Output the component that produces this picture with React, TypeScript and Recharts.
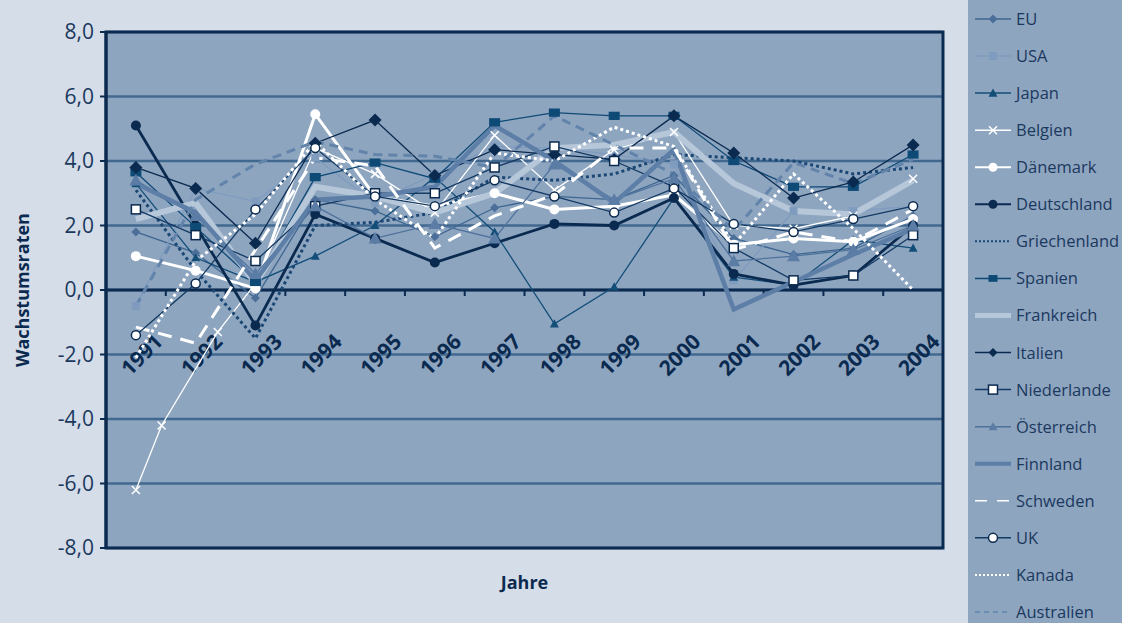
import React from "react";
import {
  LineChart,
  Line,
  XAxis,
  YAxis,
  CartesianGrid,
  ReferenceLine,
  ReferenceArea,
  Legend,
} from "recharts";

// Reale BIP-Wachstumsraten in %, 1991–2004
const JAHRE = [1991, 1992, 1993, 1994, 1995, 1996, 1997, 1998, 1999, 2000, 2001, 2002, 2003, 2004];
const Y_TICKS = [-8, -6, -4, -2, 0, 2, 4, 6, 8];

const EU = [1.8, 1.15, -0.25, 2.8, 2.45, 1.65, 2.55, 2.9, 2.8, 3.55, 1.6, 1.1, 1.3, 2.3];
const USA = [-0.5, 3.15, 2.75, 4.1, 2.7, 3.6, 4.45, 4.4, 4.2, 3.9, 0.3, 2.45, 2.45, 2.6];
const JAPAN = [3.3, 1.0, 0.25, 1.05, 2.0, 3.5, 1.8, -1.05, 0.1, 2.85, 0.4, 0.15, 1.55, 1.3];
// Belgien hat zwei Zwischenwerte zu Beginn der Reihe
const BELGIEN_JAHRE = [1991, 1991.43, 1992.37, 1993, 1994, 1995, 1996, 1997, 1998, 1999, 2000, 2001, 2002, 2003, 2004];
const BELGIEN = [-6.2, -4.2, -1.3, 0.2, 4.4, 3.6, 2.4, 4.8, 3.1, 4.35, 4.9, 2.0, 1.9, 2.3, 3.45];
const DAENEMARK = [1.05, 0.6, 0.05, 5.45, 2.9, 2.6, 3.0, 2.5, 2.6, 2.95, 1.4, 1.6, 1.5, 2.2];
const DEUTSCHLAND = [5.1, 2.0, -1.1, 2.35, 1.6, 0.85, 1.45, 2.05, 2.0, 2.85, 0.5, 0.15, 0.45, 2.0];
const GRIECHENLAND = [3.1, 0.6, -1.5, 2.0, 2.1, 2.4, 3.5, 3.4, 3.6, 4.2, 4.1, 4.0, 3.6, 3.8];
const SPANIEN = [3.65, 1.95, 0.25, 3.5, 3.95, 3.45, 5.2, 5.5, 5.4, 5.4, 4.0, 3.2, 3.2, 4.2];
const FRANKREICH = [2.2, 2.7, 0.2, 3.2, 2.9, 2.4, 3.0, 4.4, 4.5, 4.9, 3.3, 2.45, 2.35, 3.4];
const ITALIEN = [3.8, 3.15, 1.45, 4.55, 5.27, 3.55, 4.35, 4.2, 4.05, 5.4, 4.25, 2.85, 3.35, 4.5];
const NIEDERLANDE = [2.5, 1.7, 0.9, 2.6, 3.0, 3.0, 3.8, 4.45, 4.0, 3.2, 1.3, 0.3, 0.45, 1.7];
const OESTERREICH = [3.4, 2.3, 0.5, 2.6, 1.6, 2.05, 1.6, 3.9, 2.8, 3.45, 0.9, 1.05, 1.25, 2.0];
const FINNLAND = [3.3, 2.4, 0.3, 2.8, 2.9, 3.2, 5.1, 4.0, 2.7, 4.35, -0.6, 0.25, 1.1, 1.9];
const SCHWEDEN = [-1.15, -1.65, 1.25, 4.1, 3.85, 1.3, 2.3, 2.95, 4.4, 4.4, 1.25, 1.8, 1.5, 2.5];
const UK = [-1.4, 0.2, 2.5, 4.4, 2.9, 2.6, 3.4, 2.9, 2.4, 3.15, 2.05, 1.8, 2.2, 2.6];
const KANADA = [-2.1, 0.9, 2.35, 4.6, 2.8, 1.6, 4.25, 4.0, 5.05, 4.45, 1.4, 3.6, 1.9, 0.0];
const AUSTRALIEN = [-0.5, 2.8, 3.9, 4.6, 4.2, 4.15, 3.8, 5.4, 4.5, 3.6, 1.85, 3.95, 3.3, 4.05];

const PAGE_BG = "#d5dde8";
const PLOT_BG = "#8ea5c0";
const GRID = "#41688f";
const NAVY = "#0b2a4f";
const TEXT = "#1b395e";
const WHITE = "#ffffff";

type MarkerKind = "diamond" | "square" | "rect" | "triangle" | "circle" | "cross";
type Marker = { kind: MarkerKind; size: number; fill: string; stroke?: string; strokeWidth?: number };
type Serie = {
  key: string;
  label: string;
  values: number[];
  stroke: string;
  width: number;
  dash?: string;
  legendDash?: string;
  legendWidth?: number;
  marker?: Marker;
};

const SERIEN: Serie[] = [
  { key: "EU", label: "EU", values: EU, stroke: "#3e6690", width: 1.3, marker: { kind: "diamond", size: 9, fill: "#4b6f99" } },
  { key: "USA", label: "USA", values: USA, stroke: "#7f9cbf", width: 1.3, marker: { kind: "square", size: 8, fill: "#7f9cbf" } },
  { key: "Japan", label: "Japan", values: JAPAN, stroke: "#134e78", width: 1.3, marker: { kind: "triangle", size: 9, fill: "#134e78" } },
  { key: "Belgien", label: "Belgien", values: BELGIEN, stroke: WHITE, width: 1.3, marker: { kind: "cross", size: 8, fill: "none", stroke: WHITE, strokeWidth: 1.5 } },
  { key: "Daenemark", label: "Dänemark", values: DAENEMARK, stroke: WHITE, width: 3, legendWidth: 2, marker: { kind: "circle", size: 10, fill: WHITE } },
  { key: "Deutschland", label: "Deutschland", values: DEUTSCHLAND, stroke: NAVY, width: 2.8, legendWidth: 2, marker: { kind: "circle", size: 10, fill: NAVY } },
  { key: "Griechenland", label: "Griechenland", values: GRIECHENLAND, stroke: "#1b4774", width: 3, dash: "3 3", legendWidth: 2, legendDash: "2 2" },
  { key: "Spanien", label: "Spanien", values: SPANIEN, stroke: "#0e4a76", width: 1.3, marker: { kind: "rect", size: 11, fill: "#0e4a76" } },
  { key: "Frankreich", label: "Frankreich", values: FRANKREICH, stroke: "#b7c7da", width: 6, legendWidth: 5 },
  { key: "Italien", label: "Italien", values: ITALIEN, stroke: NAVY, width: 1.3, marker: { kind: "diamond", size: 13, fill: NAVY } },
  { key: "Niederlande", label: "Niederlande", values: NIEDERLANDE, stroke: "#143a63", width: 1.3, marker: { kind: "square", size: 9, fill: WHITE, stroke: NAVY, strokeWidth: 1.5 } },
  { key: "Oesterreich", label: "Österreich", values: OESTERREICH, stroke: "#4f729c", width: 1.3, marker: { kind: "triangle", size: 13, fill: "#5b7ca4" } },
  { key: "Finnland", label: "Finnland", values: FINNLAND, stroke: "#5d7ea6", width: 4.5, legendWidth: 4 },
  { key: "Schweden", label: "Schweden", values: SCHWEDEN, stroke: WHITE, width: 3, dash: "14 9", legendDash: "12 10" },
  { key: "UK", label: "UK", values: UK, stroke: "#143a63", width: 1.3, marker: { kind: "circle", size: 9, fill: WHITE, stroke: NAVY, strokeWidth: 1.5 } },
  { key: "Kanada", label: "Kanada", values: KANADA, stroke: WHITE, width: 3, dash: "3 3", legendWidth: 2, legendDash: "2 2" },
  { key: "Australien", label: "Australien", values: AUSTRALIEN, stroke: "#6283aa", width: 3, dash: "9 6", legendWidth: 1.5, legendDash: "5 4" },
];

const rows = JAHRE.map((jahr, i) => {
  const row: Record<string, number> = { jahr };
  SERIEN.forEach((s) => {
    if (s.key !== "Belgien") row[s.key] = s.values[i];
  });
  return row;
});

const belgienRows = BELGIEN_JAHRE.map((jahr, i) => ({ jahr, Belgien: BELGIEN[i] }));

function drawMarker(m: Marker, cx: number, cy: number, key?: string) {
  const s = m.size / 2;
  const common = { fill: m.fill, stroke: m.stroke ?? "none", strokeWidth: m.strokeWidth ?? 0 };
  switch (m.kind) {
    case "diamond":
      return <path key={key} d={`M${cx} ${cy - s}L${cx + s} ${cy}L${cx} ${cy + s}L${cx - s} ${cy}Z`} {...common} />;
    case "square":
      return <rect key={key} x={cx - s} y={cy - s} width={m.size} height={m.size} {...common} />;
    case "rect":
      return <rect key={key} x={cx - s} y={cy - s * 0.75} width={m.size} height={m.size * 0.75} {...common} />;
    case "triangle":
      return <path key={key} d={`M${cx} ${cy - s}L${cx + s} ${cy + s * 0.8}L${cx - s} ${cy + s * 0.8}Z`} {...common} />;
    case "circle":
      return <circle key={key} cx={cx} cy={cy} r={s} {...common} />;
    case "cross":
      return (
        <path
          key={key}
          d={`M${cx - s} ${cy - s}L${cx + s} ${cy + s}M${cx - s} ${cy + s}L${cx + s} ${cy - s}`}
          stroke={m.stroke}
          strokeWidth={m.strokeWidth}
          fill="none"
        />
      );
  }
}

const fmt = (v: number) => v.toFixed(1).replace(".", ",");

// Nulllinie mit Teilstrichen und gedrehten Jahreszahlen
function NullAchse(props: any) {
  const { x1, x2, y1 } = props;
  const band = (x2 - x1) / JAHRE.length;
  return (
    <g>
      <line x1={x1} x2={x2} y1={y1} y2={y1} stroke={NAVY} strokeWidth={3} />
      {JAHRE.slice(1).map((_, i) => (
        <line
          key={`t${i}`}
          x1={x1 + band * (i + 1)}
          x2={x1 + band * (i + 1)}
          y1={y1}
          y2={y1 + 6}
          stroke={NAVY}
          strokeWidth={2}
        />
      ))}
      {JAHRE.map((j, i) => {
        const tx = x1 + band * (i + 0.5) + 28;
        const ty = y1 + 53;
        return (
          <text
            key={j}
            x={tx}
            y={ty}
            transform={`rotate(-45 ${tx} ${ty})`}
            textAnchor="end"
            fontSize={21}
            fontWeight={700}
            fill={NAVY}
          >
            {j}
          </text>
        );
      })}
    </g>
  );
}

function YTitel(props: any) {
  const { viewBox } = props;
  const x = viewBox.x + 29;
  const y = viewBox.y + viewBox.height / 2;
  return (
    <text x={x} y={y} transform={`rotate(-90 ${x} ${y})`} textAnchor="middle" fontSize={18} fontWeight={700} fill={NAVY}>
      Wachstumsraten
    </text>
  );
}

function XTitel(props: any) {
  const { viewBox } = props;
  return (
    <text x={viewBox.x + viewBox.width / 2} y={viewBox.y + 41} textAnchor="middle" fontSize={18} fontWeight={700} fill={NAVY}>
      Jahre
    </text>
  );
}

function LegendeBox() {
  const step = 37.06;
  return (
    <svg width={154} height={623} style={{ display: "block" }}>
      <rect x={0} y={0} width={154} height={623} fill={PLOT_BG} />
      {SERIEN.map((s, i) => {
        const cy = 19 + i * step;
        return (
          <g key={s.key}>
            <line
              x1={7}
              x2={43}
              y1={cy}
              y2={cy}
              stroke={s.stroke}
              strokeWidth={s.legendWidth ?? 1.5}
              strokeDasharray={s.legendDash}
            />
            {s.marker && drawMarker({ ...s.marker, size: Math.min(s.marker.size, 9) }, 25, cy)}
            <text x={48} y={cy + 6} fontSize={16.5} fill={TEXT} fontFamily="'Open Sans', sans-serif">
              {s.label}
            </text>
          </g>
        );
      })}
    </svg>
  );
}

export default function App() {
  return (
    <div style={{ position: "absolute", left: 0, top: 0, width: 1122, height: 623, background: PAGE_BG }}>
      <LineChart
        width={1122}
        height={623}
        data={rows}
        margin={{ top: 32, right: 179, bottom: 0, left: 0 }}
        style={{ fontFamily: "'Open Sans', sans-serif" }}
      >
        <CartesianGrid vertical={false} stroke={GRID} strokeWidth={2.5} fill={PLOT_BG} fillOpacity={1} />
        <XAxis
          type="number"
          dataKey="jahr"
          domain={[1990.5, 2004.5]}
          ticks={JAHRE}
          height={75}
          axisLine={false}
          tickLine={false}
          tick={false}
          label={{ content: XTitel }}
        />
        <YAxis
          type="number"
          domain={[-8, 8]}
          ticks={Y_TICKS}
          width={106}
          interval={0}
          tickFormatter={fmt}
          axisLine={{ stroke: NAVY, strokeWidth: 3 }}
          tickLine={{ stroke: NAVY, strokeWidth: 2 }}
          tickSize={6}
          tickMargin={6}
          tick={{ fill: TEXT, fontSize: 21 }}
          label={{ content: YTitel }}
        />
        <ReferenceArea x1={1990.5} x2={2004.5} y1={-8} y2={8} fill="none" stroke={NAVY} strokeWidth={3} />
        <ReferenceLine y={0} stroke="none" shape={NullAchse} />
        {SERIEN.map((s) => {
          const m = s.marker;
          return (
            <Line
              key={s.key}
              data={s.key === "Belgien" ? belgienRows : undefined}
              dataKey={s.key}
              type="linear"
              stroke={s.stroke}
              strokeWidth={s.width}
              strokeDasharray={s.dash}
              dot={m ? (p: any) => drawMarker(m, p.cx, p.cy, `${s.key}-${p.index}`) : false}
              activeDot={false}
              isAnimationActive={false}
            />
          );
        })}
        <Legend
          layout="horizontal"
          verticalAlign="middle"
          align="center"
          content={() => <LegendeBox />}
          wrapperStyle={{ left: 968, top: 0, width: 154, height: 623 }}
        />
      </LineChart>
    </div>
  );
}
